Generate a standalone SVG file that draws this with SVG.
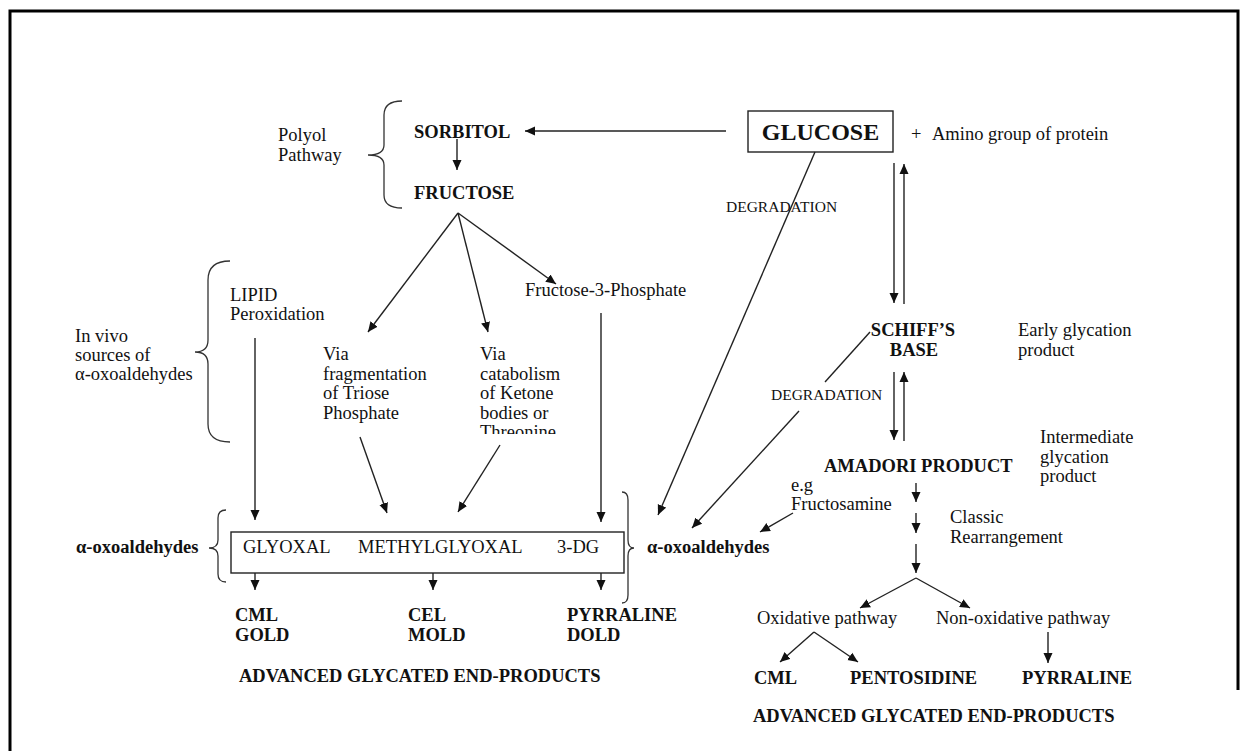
<svg xmlns="http://www.w3.org/2000/svg" width="1247" height="751" viewBox="0 0 1247 751">
<style>
.t{font-family:'Liberation Serif','Times New Roman',serif;font-size:18.5px;fill:#111}
.b{font-weight:bold}
.s{font-size:15.5px}
.ln{stroke:#222;stroke-width:1.4;fill:none}
.arr{marker-end:url(#ah)}
.br{stroke:#333;stroke-width:1.3;fill:none}
</style>
<defs>
<marker id="ah" markerWidth="10" markerHeight="10" refX="10" refY="5" orient="auto" markerUnits="userSpaceOnUse">
<path d="M0,0.5 L10,5 L0,9.5 z" fill="#111"/>
</marker>
<clipPath id="clipThr"><rect x="470" y="420" width="120" height="14"/></clipPath>
</defs>
<rect width="1247" height="751" fill="#fff"/>
<path d="M10,751 L10,11 L1238,11 L1238,690" fill="none" stroke="#000" stroke-width="3"/>

<g id="connectors">
<path class="ln arr" d="M726,131 L525,131"/>
<path class="ln arr" d="M457,139 L457,170"/>
<path class="ln arr" d="M458,213 L368,332"/>
<path class="ln arr" d="M458,213 L488,332"/>
<path class="ln arr" d="M458,213 L556,284"/>
<path class="ln arr" d="M815,152 L658,515"/>
<path class="ln arr" d="M894,163 L894,303"/>
<path class="ln arr" d="M904,304 L904,164"/>
<path class="ln arr" d="M894,372 L894,440"/>
<path class="ln arr" d="M904,441 L904,372"/>
<path class="ln" d="M870,332 L825,382"/>
<path class="ln arr" d="M799,411 L692,528"/>
<path class="ln arr" d="M793,513 L760,532"/>
<path class="ln arr" d="M916,483 L916,502"/>
<path class="ln arr" d="M916,513 L916,533"/>
<path class="ln arr" d="M916,544 L916,573"/>
<path class="ln arr" d="M916,578 L860,608"/>
<path class="ln arr" d="M916,578 L970,608"/>
<path class="ln arr" d="M814,632 L780,662"/>
<path class="ln arr" d="M814,632 L858,662"/>
<path class="ln arr" d="M1048,632 L1048,663"/>
<path class="ln arr" d="M255,338 L255,520"/>
<path class="ln arr" d="M360,437 L387,513"/>
<path class="ln arr" d="M500,445 L458,512"/>
<path class="ln arr" d="M601,313 L601,522"/>
<path class="ln arr" d="M255,573 L255,590"/>
<path class="ln arr" d="M433,573 L433,590"/>
<path class="ln arr" d="M601,573 L601,590"/>
</g>

<g id="polyol">
<path class="br" d="M402,101 Q384,101 384,115 L384,145 Q384,155 368,155 Q384,155 384,165 L384,195 Q384,208 402,208"/>
<text class="t" x="278" y="141">Polyol</text>
<text class="t" x="278" y="161">Pathway</text>
</g>
<g id="sorbitol"><text class="t b" x="414" y="138">SORBITOL</text></g>
<g id="fructose"><text class="t b" x="414" y="199">FRUCTOSE</text></g>
<g id="glucose">
<rect x="748" y="111" width="145" height="41" fill="none" stroke="#222" stroke-width="1.4"/>
<text class="t b" x="820.5" y="140" text-anchor="middle" style="font-size:24px">GLUCOSE</text>
</g>
<g id="amino"><text class="t" x="911" y="140">+<tspan x="932">Amino group of protein</tspan></text></g>
<g id="degradation1"><text class="t s" x="726" y="212">DEGRADATION</text></g>
<g id="f3p"><text class="t" x="525" y="296">Fructose-3-Phosphate</text></g>
<g id="lipid">
<text class="t" x="230" y="301">LIPID</text>
<text class="t" x="230" y="320">Peroxidation</text>
</g>
<g id="invivo">
<path class="br" d="M230,261 Q208,261 208,280 L208,340 Q208,352 195,352 Q208,352 208,364 L208,424 Q208,442 230,442"/>
<text class="t" x="75" y="342">In vivo</text>
<text class="t" x="75" y="361">sources of</text>
<text class="t" x="75" y="380">α-oxoaldehydes</text>
</g>
<g id="fragmentation">
<text class="t" x="323" y="360">Via</text>
<text class="t" x="323" y="379.5">fragmentation</text>
<text class="t" x="323" y="399">of Triose</text>
<text class="t" x="323" y="418.5">Phosphate</text>
</g>
<g id="catabolism">
<text class="t" x="480" y="360">Via</text>
<text class="t" x="480" y="379.5">catabolism</text>
<text class="t" x="480" y="399">of Ketone</text>
<text class="t" x="480" y="418.5">bodies or</text>
<text class="t" x="480" y="438" clip-path="url(#clipThr)">Threonine</text>
</g>
<g id="schiff">
<text class="t b" x="913" y="336" text-anchor="middle">SCHIFF’S</text>
<text class="t b" x="914" y="356" text-anchor="middle">BASE</text>
</g>
<g id="early">
<text class="t" x="1018" y="336">Early glycation</text>
<text class="t" x="1018" y="356">product</text>
</g>
<g id="degradation2"><text class="t s" x="771" y="400">DEGRADATION</text></g>
<g id="intermediate">
<text class="t" x="1040" y="443">Intermediate</text>
<text class="t" x="1040" y="463">glycation</text>
<text class="t" x="1040" y="482">product</text>
</g>
<g id="amadori"><text class="t b" x="824" y="472">AMADORI PRODUCT</text></g>
<g id="fructosamine">
<text class="t" x="791" y="491">e.g</text>
<text class="t" x="791" y="510">Fructosamine</text>
</g>
<g id="classic">
<text class="t" x="950" y="523">Classic</text>
<text class="t" x="950" y="543">Rearrangement</text>
</g>
<g id="oxo-right">
<path class="br" d="M622,492 Q628,492 628,500 L628,540 Q628,548 634,548 Q628,548 628,556 L628,595 Q628,603 622,603"/>
<text class="t b" x="647" y="553">α-oxoaldehydes</text>
</g>
<g id="oxo-left">
<path class="br" d="M226,510 Q218,510 218,518 L218,540 Q218,548 209,548 Q218,548 218,556 L218,574 Q218,582 226,582"/>
<text class="t b" x="76" y="553">α-oxoaldehydes</text>
</g>
<g id="oxo-box">
<rect x="231" y="532" width="393" height="41" fill="none" stroke="#222" stroke-width="1.4"/>
<text class="t" x="243" y="553">GLYOXAL</text>
<text class="t" x="358" y="553">METHYLGLYOXAL</text>
<text class="t" x="557" y="553">3-DG</text>
</g>
<g id="age-left">
<text class="t b" x="235" y="621">CML</text>
<text class="t b" x="235" y="641">GOLD</text>
<text class="t b" x="408" y="621">CEL</text>
<text class="t b" x="408" y="641">MOLD</text>
<text class="t b" x="567" y="621">PYRRALINE</text>
<text class="t b" x="567" y="641">DOLD</text>
<text class="t b" x="239" y="682">ADVANCED GLYCATED END-PRODUCTS</text>
</g>
<g id="pathways">
<text class="t" x="757" y="624">Oxidative pathway</text>
<text class="t" x="936" y="624">Non-oxidative pathway</text>
</g>
<g id="age-right">
<text class="t b" x="754" y="684">CML</text>
<text class="t b" x="850" y="684">PENTOSIDINE</text>
<text class="t b" x="1022" y="684">PYRRALINE</text>
<text class="t b" x="753" y="722">ADVANCED GLYCATED END-PRODUCTS</text>
</g>
</svg>
